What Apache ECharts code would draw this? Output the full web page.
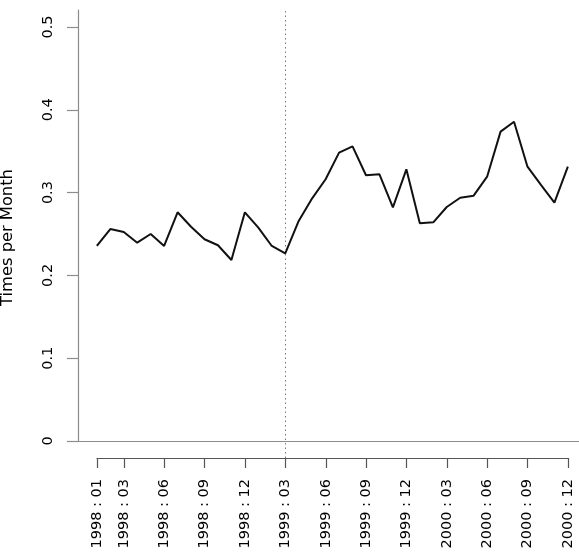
<!DOCTYPE html>
<html>
<head>
<meta charset="utf-8">
<script src="https://cdn.jsdelivr.net/npm/echarts@6/dist/echarts.min.js"></script>
<style>
html, body { margin: 0; padding: 0; background: #fff; }
#res { width: 579px; height: 559px; }
</style>
</head>
<body>
<div id="res"></div>
<script>
// monthly series 1998:01 - 2000:12
var years = ['1998', '1999', '2000'];
var months = [];
for (var y = 0; y < years.length; y++) {
    for (var m = 1; m <= 12; m++) {
        months.push(years[y] + ' : ' + (m < 10 ? '0' + m : '' + m));
    }
}
var values = [0.2355, 0.256, 0.2524, 0.2395, 0.250, 0.2355, 0.2762, 0.2588, 0.2436, 0.2364, 0.2186, 0.2762,
              0.2576, 0.2355, 0.2267, 0.2657, 0.2931, 0.3161, 0.3482, 0.3559, 0.3209, 0.3221, 0.2822, 0.3281,
              0.2629, 0.2641, 0.2826, 0.2938, 0.2963, 0.3192, 0.3736, 0.3856, 0.3313, 0.3092, 0.2878, 0.3313];
var tickLabels = ['1998 : 01', '1998 : 03', '1998 : 06', '1998 : 09', '1998 : 12', '1999 : 03', '1999 : 06',
                  '1999 : 09', '1999 : 12', '2000 : 03', '2000 : 06', '2000 : 09', '2000 : 12'];
var yTicks = [0, 0.1, 0.2, 0.3, 0.4, 0.5];
var breakMonth = '1999 : 03';

var tickIdx = [];
for (var i = 0; i < tickLabels.length; i++) {
    tickIdx.push(months.indexOf(tickLabels[i]));
}
var points = [];
for (var i = 0; i < values.length; i++) {
    points.push([i, values[i]]);
}
var font = 'DejaVu Sans';

var myChart = echarts.init(document.getElementById('res'));
var option = {
    animation: false,
    grid: [
        {left: 78, top: 10, width: 508.7, bottom: 118, outerBoundsMode: 'none', containLabel: false},
        {left: 97, top: 10, width: 471, bottom: 101, outerBoundsMode: 'none', containLabel: false}
    ],
    xAxis: [{
        type: 'value',
        gridIndex: 0,
        min: -1.4,
        max: 36.4,
        axisLine: {show: true, onZero: false, lineStyle: {color: '#8c8c8c', width: 1.2}},
        axisTick: {show: false},
        axisLabel: {show: false},
        splitLine: {show: false}
    }, {
        type: 'category',
        gridIndex: 1,
        data: months,
        boundaryGap: false,
        axisLine: {show: true, onZero: false, lineStyle: {color: '#555', width: 1.2}},
        axisTick: {
            show: true,
            length: 10,
            lineStyle: {color: '#555', width: 1.2},
            interval: function (index) { return tickIdx.indexOf(index) >= 0; }
        },
        axisLabel: {
            rotate: 90,
            margin: 21,
            color: '#000',
            fontFamily: font,
            fontSize: 14.5,
            interval: function (index) { return tickIdx.indexOf(index) >= 0; }
        },
        splitLine: {show: false}
    }],
    yAxis: [{
        type: 'value',
        gridIndex: 0,
        min: 0,
        max: 0.5205,
        name: 'Times per Month',
        nameLocation: 'middle',
        nameGap: 62,
        nameTextStyle: {color: '#000', fontFamily: font, fontSize: 16.3, padding: [0, 24, 0, 0]},
        axisLine: {show: true, onZero: false, lineStyle: {color: '#8c8c8c', width: 1.2}},
        axisTick: {show: true, length: 11, customValues: yTicks, lineStyle: {color: '#8c8c8c', width: 1.2}},
        axisLabel: {
            rotate: 90,
            margin: 22,
            color: '#000',
            fontFamily: font,
            fontSize: 14.5,
            customValues: yTicks
        },
        splitLine: {show: false}
    }, {
        type: 'value',
        gridIndex: 1,
        min: 0,
        max: 1,
        show: false
    }],
    series: [{
        type: 'line',
        xAxisIndex: 0,
        yAxisIndex: 0,
        data: points,
        symbol: 'none',
        lineStyle: {color: '#111', width: 2},
        z: 3
    }, {
        type: 'line',
        xAxisIndex: 1,
        yAxisIndex: 1,
        data: [],
        markLine: {
            silent: true,
            symbol: ['none', 'none'],
            label: {show: false},
            lineStyle: {color: '#777', type: [1.5, 3], width: 1},
            data: [{xAxis: breakMonth}]
        }
    }]
};
myChart.setOption(option);
</script>
</body>
</html>
